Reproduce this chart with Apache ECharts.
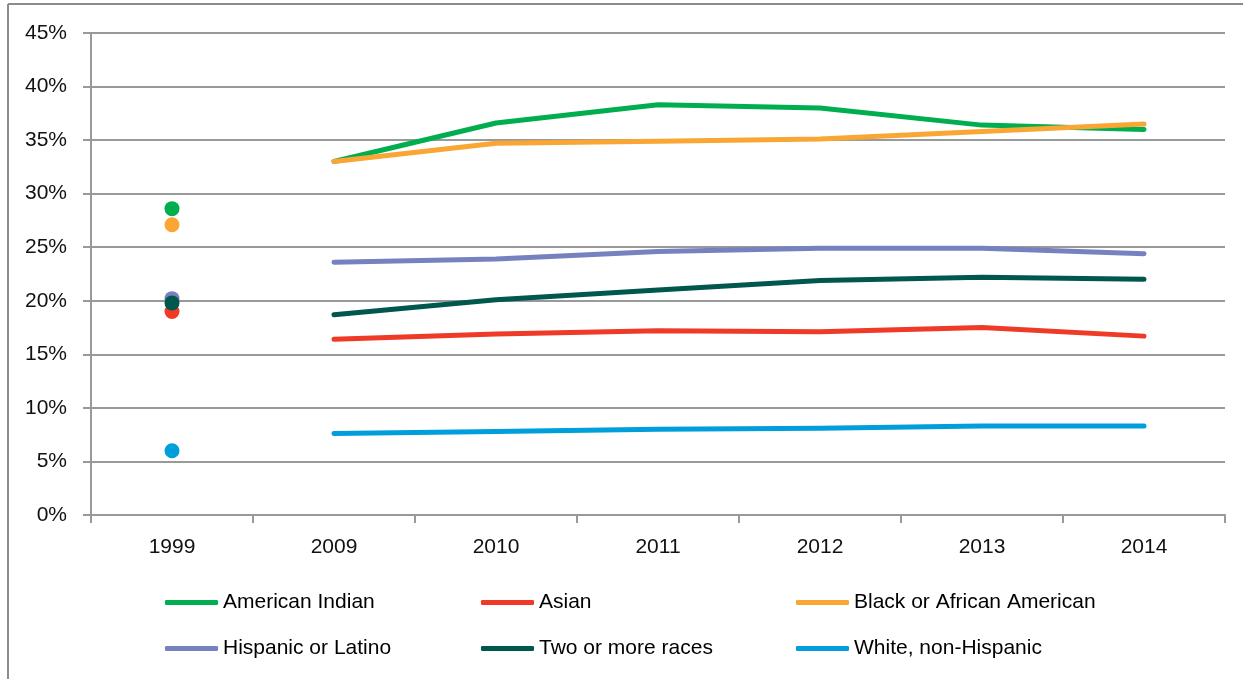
<!DOCTYPE html>
<html>
<head>
<meta charset="utf-8">
<script src="https://cdn.jsdelivr.net/npm/echarts@6/dist/echarts.min.js"></script>
<style>
html,body{margin:0;padding:0;background:#fff;}
#chart{width:1243px;height:679px;}
</style>
</head>
<body>
<div id="chart"></div>
<script>
var categories = ['1999', '2009', '2010', '2011', '2012', '2013', '2014'];
var yTicks = [0, 5, 10, 15, 20, 25, 30, 35, 40, 45];

var seriesNames = ['American Indian', 'Asian', 'Black or African American', 'Hispanic or Latino', 'Two or more races', 'White, non-Hispanic'];
var seriesColors = ['#00AE50', '#EE3A26', '#F9A634', '#7682C0', '#00574E', '#009FDB'];

var americanIndian = [28.6, 33.0, 36.6, 38.3, 38.0, 36.4, 36.0];
var asian          = [19.0, 16.4, 16.9, 17.2, 17.1, 17.5, 16.7];
var black          = [27.1, 33.0, 34.7, 34.9, 35.1, 35.8, 36.5];
var hispanic       = [20.2, 23.6, 23.9, 24.6, 24.9, 24.9, 24.4];
var twoOrMore      = [19.8, 18.7, 20.1, 21.0, 21.9, 22.2, 22.0];
var white          = [6.0, 7.6, 7.8, 8.0, 8.1, 8.3, 8.3];

var allValues = [americanIndian, asian, black, hispanic, twoOrMore, white];

var FONT = '"Liberation Sans Narrow", "Arial Narrow", "Liberation Sans", Arial, sans-serif';

var series = [];
// trend lines 2009-2014 (1999 kept apart)
allValues.forEach(function (vals, i) {
  series.push({
    name: seriesNames[i],
    type: 'line',
    data: vals.map(function (v, j) { return j === 0 ? null : v; }),
    showSymbol: false,
    symbol: 'none',
    connectNulls: false,
    lineStyle: { width: 5, color: seriesColors[i], cap: 'round', join: 'round' },
    itemStyle: { color: seriesColors[i] },
    z: 2 + i * 0.01
  });
});
// 1999 isolated points
allValues.forEach(function (vals, i) {
  series.push({
    name: seriesNames[i],
    type: 'scatter',
    data: vals.map(function (v, j) { return j === 0 ? v : null; }),
    symbol: 'circle',
    symbolSize: 15,
    itemStyle: { color: seriesColors[i], opacity: 1 },
    z: 3 + i * 0.01
  });
});

function legendCol(names, left) {
  return {
    orient: 'vertical',
    left: left,
    top: 592,
    padding: 0,
    itemGap: 25,
    itemWidth: 53,
    itemHeight: 5,
    icon: 'roundRect',
    data: names,
    textStyle: { fontFamily: FONT, fontSize: 21, color: '#000', padding: [0, 0, 0, 0] },
    selectedMode: false
  };
}

var option = {
  backgroundColor: '#fff',
  animation: false,
  grid: { left: 91, right: 18, top: 33, bottom: 164, containLabel: false },
  xAxis: {
    type: 'category',
    data: categories,
    boundaryGap: true,
    axisLine: { show: true, lineStyle: { color: '#999', width: 2 } },
    axisTick: { show: true, alignWithLabel: false, length: 8, lineStyle: { color: '#999', width: 2 } },
    axisLabel: { fontFamily: FONT, fontSize: 21, color: '#111', margin: 22 },
    splitLine: { show: false }
  },
  yAxis: {
    type: 'value',
    min: yTicks[0],
    max: yTicks[yTicks.length - 1],
    interval: 5,
    axisLine: { show: true, lineStyle: { color: '#999', width: 2 } },
    axisTick: { show: true, length: 8, lineStyle: { color: '#999', width: 2 } },
    axisLabel: { fontFamily: FONT, fontSize: 21, color: '#111', margin: 24, formatter: '{value}%' },
    splitLine: { show: true, lineStyle: { color: '#999', width: 2 } }
  },
  legend: [
    legendCol([seriesNames[0], seriesNames[3]], 165),
    legendCol([seriesNames[1], seriesNames[4]], 481),
    legendCol([seriesNames[2], seriesNames[5]], 796)
  ],
  graphic: [
    { type: 'line', shape: { x1: 8, y1: 4, x2: 1243, y2: 4 }, style: { stroke: '#8c8c8c', lineWidth: 2 }, silent: true },
    { type: 'line', shape: { x1: 8, y1: 4, x2: 8, y2: 679 }, style: { stroke: '#8c8c8c', lineWidth: 2 }, silent: true }
  ],
  series: series
};

var chart = echarts.init(document.getElementById('chart'), null, { renderer: 'canvas' });
chart.setOption(option);
</script>
</body>
</html>
